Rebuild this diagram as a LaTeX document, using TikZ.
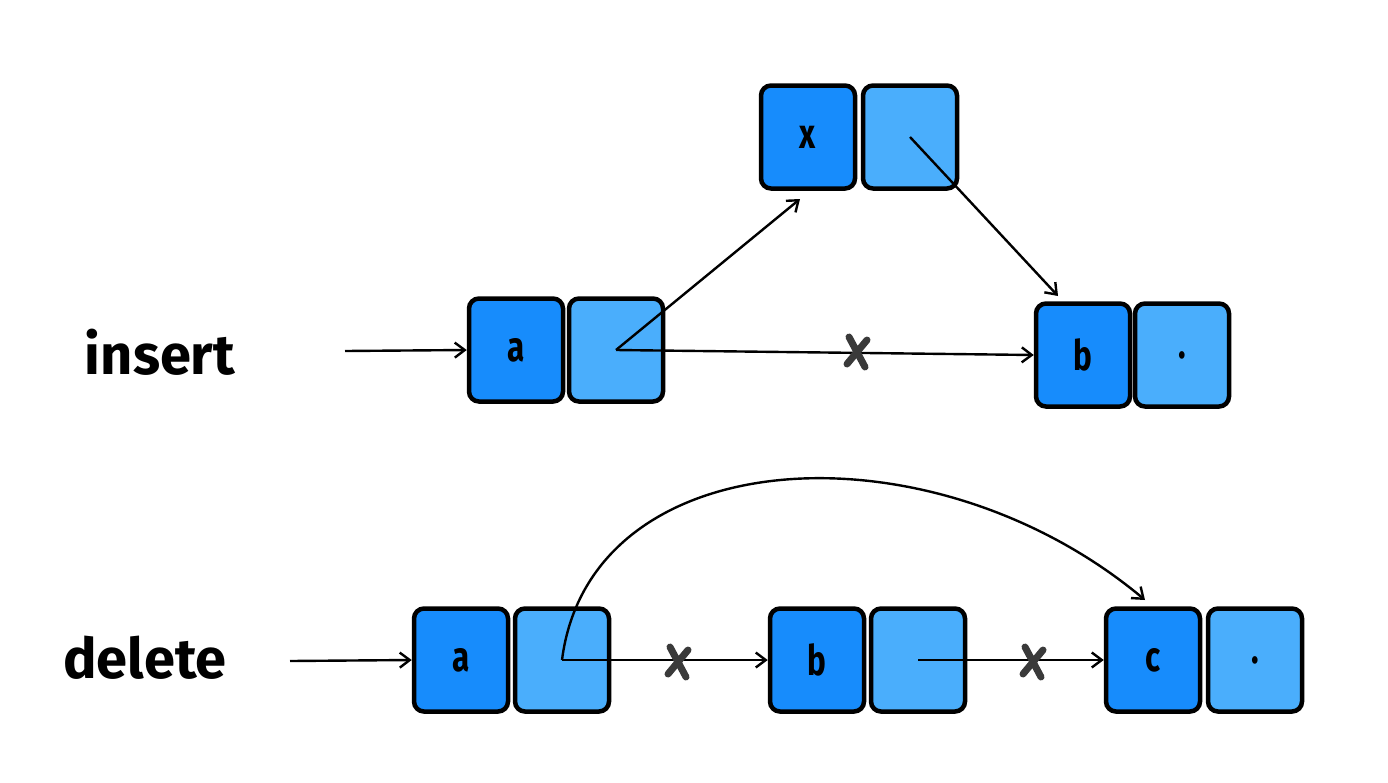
\documentclass[tikz,border=0pt]{standalone}
\usepackage{fontspec}
\setmainfont{Fira Sans}
\newfontfamily\cellfont[FakeStretch=0.75]{Fira Sans}
\newfontfamily\lblfont{Fira Sans SemiBold}
\usetikzlibrary{arrows.meta}
\definecolor{dblue}{HTML}{178CFC}
\definecolor{lblue}{HTML}{4AAEFC}
\definecolor{xgray}{HTML}{3A3A3A}
\begin{document}
\begin{tikzpicture}[x=1pt,y=-1pt,
  cell/.style={draw=black, line width=4.5pt, rounded corners=10pt, minimum width=94pt, minimum height=103pt, inner sep=0pt, font=\cellfont\fontsize{42}{42}\selectfont\bfseries},
  dcell/.style={cell, fill=dblue},
  lcell/.style={cell, fill=lblue},
  link/.style={line width=2.4pt, -{Straight Barb[length=10pt,width=15pt,line width=2.4pt]}},
  lbl/.style={font=\fontsize{56}{56}\selectfont\bfseries, inner sep=0pt},
  xmark/.pic={\draw[xgray, line width=7pt, line cap=round] (-8,-15) -- (8,15) (-10,12) -- (10,-12);}]
\useasboundingbox (0,0) rectangle (1388,782);
% insert row
\node[lbl] (ins) at (160,352) {insert};
\node[dcell] (ia) at (516,350) {a};
\node[lcell] (ian) at (616,350) {};
\node[dcell] (ix) at (808,137) {x};
\node[lcell] (ixn) at (910,137) {};
\node[dcell] (ib) at (1083,355) {b};
\node[lcell] (ibn) at (1182,355) {.};
\coordinate (is) at (345,351);
\coordinate (ixt) at (800,199);
\coordinate (ibt) at (1058,296);
\draw[link] (is) -- (ia.west);
\draw[link] (ian.center) -- (ib.west);
\draw[link] (ian.center) -- (ixt);
\draw[link] (ixn.center) -- (ibt);
\pic at (857,352) {xmark};
% delete row
\node[lbl] (del) at (145,658) {delete};
\node[dcell] (da) at (461,660) {a};
\node[lcell] (dan) at (562,660) {};
\node[dcell] (db) at (817,660) {b};
\node[lcell] (dbn) at (918,660) {};
\node[dcell] (dc) at (1153,660) {c};
\node[lcell] (dcn) at (1255,660) {.};
\coordinate (ds) at (290,661);
\coordinate (dct) at (1145,600);
\draw[link] (ds) -- (da.west);
\draw[link] (dan.center) -- (db.west);
\draw[link] (dbn.center) -- (dc.west);
\draw[link] (dan.center) .. controls (590,440) and (930,420) .. (dct);
\pic at (678,662) {xmark};
\pic at (1033,662) {xmark};
\end{tikzpicture}
\end{document}
